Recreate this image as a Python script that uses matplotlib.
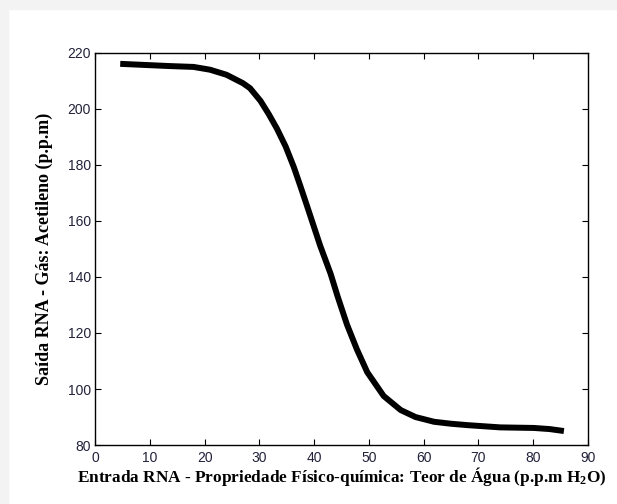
import matplotlib.pyplot as plt
from matplotlib.patches import Rectangle

# network response: water content (ppm H2O) -> acetylene (ppm)
teor_agua = [4.6, 8.0, 13.7, 18.0, 21.0, 24.0, 27.0, 28.3, 30.2, 31.7, 33.2,
             34.8, 36.3, 37.5, 38.7, 41.1, 43.0, 44.3, 46.0, 47.8, 49.7,
             52.7, 55.8, 58.5, 61.9, 65.0, 68.0, 74.0, 80.1, 83.0, 85.6]
acetileno = [216.1, 215.8, 215.3, 215.0, 214.0, 212.2, 209.2, 207.4, 202.9,
             198.2, 193.0, 186.6, 179.2, 172.4, 165.4, 151.2, 141.2, 133.0,
             123.0, 114.2, 106.0, 97.5, 92.5, 90.0, 88.3, 87.6, 87.1, 86.3,
             86.1, 85.7, 85.0]

plt.rcParams['mathtext.fontset'] = 'custom'
plt.rcParams['mathtext.rm'] = 'Liberation Serif:bold'
plt.rcParams['mathtext.it'] = 'Liberation Serif:bold'

fig = plt.figure(figsize=(6.17, 5.04), dpi=100)

# light page shading along the top and left edges
fig.patches.append(Rectangle((0, 0.982), 1, 0.018, transform=fig.transFigure,
                             color='#f3f3f3', zorder=-1))
fig.patches.append(Rectangle((0, 0), 0.013, 1, transform=fig.transFigure,
                             color='#f3f3f3', zorder=-1))

ax = fig.add_axes([0.154, 0.117, 0.799, 0.778])
ax.plot(teor_agua, acetileno, color='black', linewidth=4.3,
        solid_capstyle='butt', solid_joinstyle='round')

ax.set_xlim(0, 90)
ax.set_ylim(80, 220)
ax.set_xticks(range(0, 91, 10))
ax.set_yticks(range(80, 221, 20))
ax.tick_params(direction='in', length=4, width=0.8, top=True, right=True,
               labelsize=10, labelcolor='#22223a')
ax.tick_params(axis='x', pad=4.5)
ax.tick_params(axis='y', pad=3)
for lbl in ax.get_xticklabels() + ax.get_yticklabels():
    lbl.set_fontfamily('Liberation Sans')
for s in ax.spines.values():
    s.set_linewidth(1.0)

ax.set_xlabel('Entrada RNA - Propriedade Físico-química: Teor de Água (p.p.m H$_2$O)',
              fontfamily='Liberation Serif', fontweight='bold', fontsize=12.4)
ax.xaxis.set_label_coords(0.5, -0.094, transform=ax.transAxes)
ax.xaxis.label.set_va('baseline')
ax.set_ylabel('Saída RNA - Gás: Acetileno (p.p.m)',
              fontfamily='Liberation Serif', fontweight='bold', fontsize=13,
              labelpad=10)

fig.savefig('out.png', dpi=100)
